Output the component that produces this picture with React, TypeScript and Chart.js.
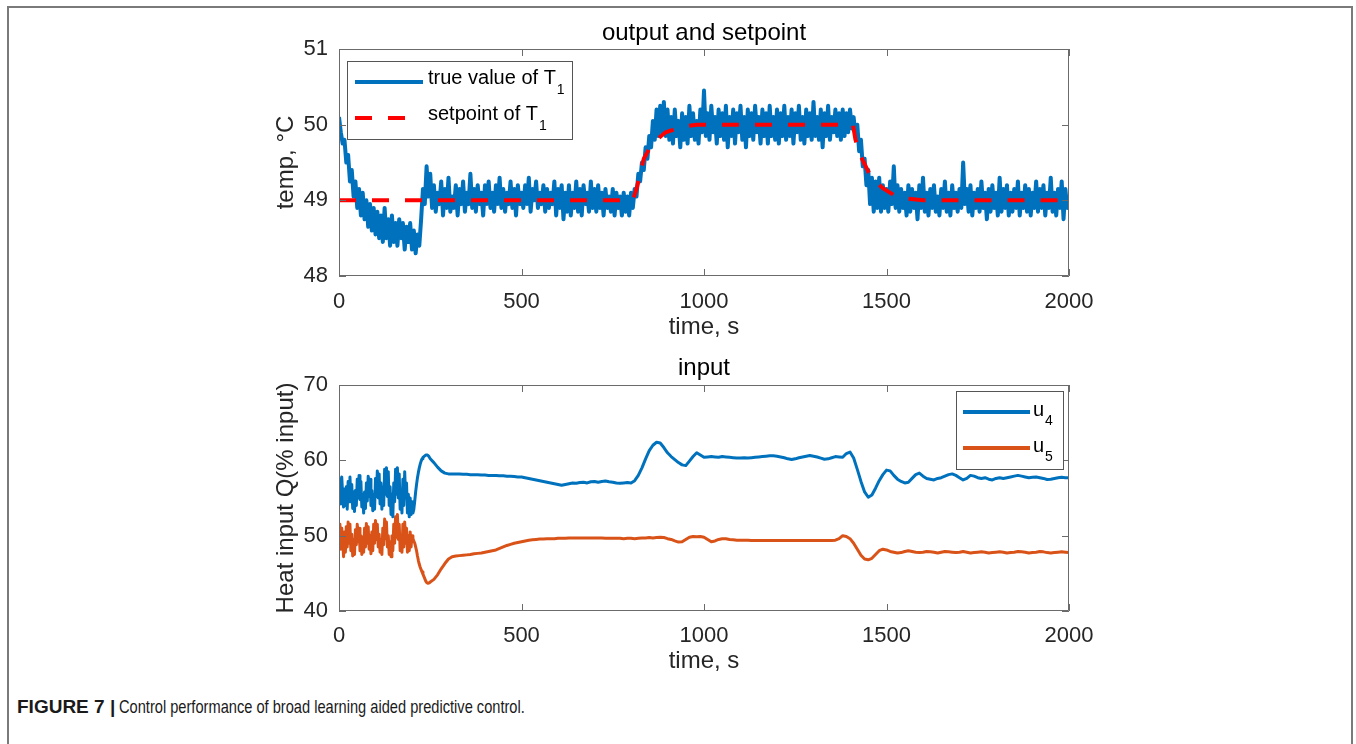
import React, { useEffect, useRef } from 'react';
import { Chart, registerables } from 'chart.js';

Chart.register(...registerables);

const FONT = '"Liberation Sans", Arial, Helvetica, sans-serif';
const TEXT_COLOR = '#262626';
const AXIS_COLOR = '#6b6b6b';

// ---------- shared axis data ----------
const TIME_TICKS = [0, 500, 1000, 1500, 2000];
const TIME_MIN = 0;
const TIME_MAX = 2000;
const TOP_Y_TICKS = [48, 49, 50, 51];
const BOTTOM_Y_TICKS = [40, 50, 60, 70];

// ---------- top plot: output and setpoint ----------
const TOP_TITLE = 'output and setpoint';
const TOP_Y_LABEL = 'temp, °C';
const X_LABEL = 'time, s';
const TRUE_NAME = ['true value of T', '1'];
const SETPOINT_NAME = ['setpoint of T', '1'];

// true value of T1, sampled every 5 s from 0 to 2000 s (one row = 100 s)
const TRUE_T1_STEP = 5;
const trueT1 = [
  50.10, 49.90, 49.75, 49.80, 49.50, 49.60, 49.25, 49.40, 49.05, 49.25, 48.90, 49.15, 48.80, 49.10, 48.75, 49.00, 48.65, 48.95, 48.60, 48.90,
  48.55, 48.85, 48.50, 48.80, 48.45, 48.90, 48.50, 48.75, 48.40, 48.80, 48.45, 48.70, 48.40, 48.75, 48.50, 48.70, 48.35, 48.65, 48.45, 48.70,
  48.35, 48.60, 48.30, 48.55, 48.40, 48.75, 49.15, 48.95, 49.45, 49.05, 49.35, 48.90, 49.20, 48.85, 49.10, 48.95, 49.25, 48.80, 49.15, 48.90,
  49.30, 48.85, 49.05, 48.90, 49.20, 48.80, 49.15, 48.95, 49.25, 48.85, 49.10, 48.95, 49.35, 48.90, 49.15, 48.85, 49.20, 48.95, 49.10, 48.80,
  49.20, 48.95, 49.25, 48.90, 49.10, 48.85, 49.20, 48.95, 49.30, 48.90, 49.15, 48.85, 49.10, 48.95, 49.25, 48.90, 49.15, 48.80, 49.20, 48.95,
  49.10, 48.90, 49.20, 48.95, 49.30, 48.85, 49.15, 49.00, 49.25, 48.90, 49.10, 48.95, 49.20, 48.85, 49.15, 48.90, 49.10, 48.95, 49.25, 48.80,
  49.15, 48.90, 49.20, 48.75, 49.10, 48.85, 49.20, 48.80, 49.10, 48.90, 49.25, 48.85, 49.15, 48.80, 49.20, 48.95, 49.10, 48.85, 49.25, 48.90,
  49.15, 48.85, 49.20, 48.90, 49.10, 48.80, 49.15, 48.90, 49.05, 48.85, 49.15, 48.80, 49.10, 48.90, 49.05, 48.80, 49.10, 48.85, 49.05, 48.80,
  49.10, 48.90, 49.15, 49.05, 49.35, 49.25, 49.50, 49.40, 49.70, 49.55, 49.85, 49.70, 50.05, 49.80, 50.20, 49.85, 50.25, 49.90, 50.30, 49.85,
  50.20, 49.80, 50.10, 49.75, 50.20, 49.85, 50.05, 49.70, 50.15, 49.80, 50.10, 49.75, 50.25, 49.85, 50.15, 49.80, 50.05, 49.75, 50.20, 49.90,
  50.45, 49.85, 50.15, 49.80, 50.25, 49.90, 50.10, 49.75, 50.20, 49.85, 50.15, 49.80, 50.25, 49.70, 50.10, 49.85, 50.20, 49.75, 50.15, 49.90,
  50.25, 49.80, 50.10, 49.70, 50.20, 49.85, 50.15, 49.80, 50.25, 49.90, 50.10, 49.75, 50.20, 49.85, 50.15, 49.75, 50.25, 49.85, 50.10, 49.80,
  50.20, 49.75, 50.15, 49.85, 50.25, 49.80, 50.10, 49.85, 50.20, 49.75, 50.15, 49.90, 50.25, 49.80, 50.10, 49.75, 50.20, 49.85, 50.15, 49.80,
  50.30, 49.85, 50.10, 49.80, 50.20, 49.70, 50.15, 49.85, 50.25, 49.80, 50.10, 49.90, 50.20, 49.85, 50.15, 49.80, 50.20, 49.85, 50.15, 49.90,
  50.20, 49.95, 50.10, 49.85, 50.00, 49.65, 49.80, 49.45, 49.55, 49.20, 49.40, 48.95, 49.30, 48.85, 49.25, 48.90, 49.30, 48.85, 49.20, 48.90,
  49.15, 48.85, 49.25, 48.95, 49.45, 48.90, 49.20, 48.85, 49.15, 48.90, 49.10, 48.80, 49.20, 48.85, 49.15, 48.90, 49.10, 48.75, 49.20, 48.90,
  49.30, 48.85, 49.10, 48.80, 49.15, 48.90, 49.20, 48.85, 49.05, 48.80, 49.15, 48.90, 49.25, 48.85, 49.10, 48.80, 49.20, 48.90, 49.10, 48.85,
  49.15, 48.90, 49.50, 48.95, 49.15, 48.85, 49.20, 48.80, 49.10, 48.90, 49.15, 48.85, 49.25, 48.90, 49.10, 48.75, 49.15, 48.85, 49.20, 48.90,
  49.10, 48.80, 49.30, 48.85, 49.15, 48.90, 49.20, 48.80, 49.10, 48.85, 49.15, 48.90, 49.25, 48.80, 49.10, 48.90, 49.20, 48.85, 49.15, 48.80,
  49.10, 48.90, 49.25, 48.85, 49.15, 48.90, 49.20, 48.80, 49.10, 48.90, 49.30, 48.85, 49.10, 48.80, 49.15, 48.90, 49.25, 48.75, 49.15, 48.90,
  49.05,
];

// setpoint of T1 (reference trajectory)
const setpointTime = [0, 805, 815, 825, 835, 850, 870, 895, 940, 980, 1408, 1415, 1430, 1450, 1470, 1490, 1520, 1560, 1600, 2000];
const setpointValue = [49, 49, 49.15, 49.35, 49.55, 49.68, 49.8, 49.9, 49.97, 50, 50, 49.8, 49.58, 49.38, 49.25, 49.16, 49.07, 49.02, 49, 49];

// ---------- bottom plot: input ----------
const BOTTOM_TITLE = 'input';
const BOTTOM_Y_LABEL = 'Heat input Q(% input)';
const U4_NAME = ['u', '4'];
const U5_NAME = ['u', '5'];

// 0 .. 250 s every 2.5 s
const U_EARLY_STEP = 2.5;
const u4Early = [
  55.0, 57.5, 54.2, 57.8, 55.5, 53.8, 56.2, 54.0, 56.5, 53.5,
  57.2, 54.5, 57.8, 55.0, 56.8, 53.6, 55.8, 53.2, 56.0, 54.0,
  57.5, 55.0, 58.0, 54.8, 57.2, 53.8, 55.5, 53.0, 55.8, 53.6,
  57.0, 54.6, 57.9, 55.2, 57.5, 54.0, 56.0, 53.3, 55.5, 53.5,
  57.6, 55.2, 58.6, 55.0, 58.2, 54.2, 57.0, 53.5, 56.5, 54.0,
  58.8, 55.5, 59.0, 55.2, 58.5, 54.0, 56.5, 52.8, 55.5, 52.5,
  57.0, 54.5, 58.8, 55.5, 59.0, 55.0, 58.2, 53.5, 56.0, 53.0,
  57.5, 54.0, 58.5, 55.0, 57.0, 53.0, 55.5, 52.5, 55.0, 52.8,
  54.5, 53.0, 53.5, 54.6, 55.8, 56.8, 57.7, 58.4, 59.0, 59.5,
  59.9, 60.2, 60.4, 60.5, 60.6, 60.7, 60.7, 60.7, 60.6, 60.4,
  60.2,
];
const u5Early = [
  49.0, 51.5, 48.2, 51.0, 49.5, 47.2, 50.5, 47.8, 51.2, 48.5,
  51.8, 49.0, 51.5, 48.0, 50.2, 47.3, 49.5, 47.5, 50.8, 48.8,
  51.5, 49.2, 51.0, 48.0, 50.0, 47.5, 49.8, 47.8, 51.0, 48.5,
  51.6, 49.0, 51.2, 48.2, 50.0, 47.6, 50.5, 48.0, 51.5, 49.0,
  52.0, 49.5, 51.5, 48.5, 50.2, 47.8, 49.5, 47.5, 51.0, 48.8,
  52.2, 49.6, 51.8, 48.5, 50.0, 47.5, 49.2, 47.2, 50.0, 48.0,
  51.5, 49.0, 52.5, 49.8, 52.8, 49.5, 51.5, 48.0, 50.0, 47.8,
  51.5, 48.5, 51.8, 49.0, 51.0, 47.8, 50.0, 48.0, 50.5, 48.5,
  50.0, 49.6, 49.3, 49.0, 48.5, 48.0, 47.3, 46.7, 46.2, 45.8,
  45.5, 45.2, 44.9, 44.6, 44.3, 44.0, 43.8, 43.7, 43.7, 43.75,
  43.85,
];

// 260 .. 2000 s every 10 s
const U_LATE_START = 260;
const U_LATE_STEP = 10;
const u4Late = [
  59.7, 59.1, 58.6, 58.3, 58.2, 58.2, 58.2, 58.2, 58.15, 58.15,
  58.1, 58.1, 58.1, 58.05, 58.05, 58.0, 58.0, 58.0, 57.95, 57.95,
  57.9, 57.9, 57.85, 57.8, 57.8, 57.7, 57.6, 57.5, 57.4, 57.3,
  57.2, 57.1, 57.0, 56.9, 56.8, 56.7, 56.8, 56.9, 57.0, 56.95,
  57.05, 57.1, 57.0, 57.15, 57.2, 57.1, 57.2, 57.25, 57.15, 57.1,
  57.0, 56.95, 57.0, 57.05, 57.0, 57.3, 58.0, 59.0, 60.2, 61.3,
  62.0, 62.4, 62.3, 61.7, 61.0, 60.5, 60.1, 59.7, 59.4, 59.3,
  59.9, 60.5, 61.0, 60.7, 60.4, 60.45, 60.5, 60.45, 60.4, 60.5,
  60.45, 60.4, 60.35, 60.3, 60.3, 60.35, 60.3, 60.35, 60.4, 60.45,
  60.5, 60.55, 60.6, 60.6, 60.55, 60.45, 60.35, 60.2, 60.1, 60.2,
  60.35, 60.45, 60.55, 60.65, 60.55, 60.45, 60.3, 60.15, 60.2, 60.35,
  60.5, 60.45, 60.4, 60.9, 61.1, 60.3, 58.8, 57.2, 55.8, 55.1,
  55.4, 56.3, 57.3, 58.1, 58.7, 58.6, 58.0, 57.5, 57.2, 57.0,
  57.1, 57.6, 58.1, 58.3, 57.9, 57.6, 57.5, 57.4, 57.6, 57.7,
  57.9, 58.1, 58.2, 58.0, 57.7, 57.4, 57.6, 58.0, 57.9, 57.7,
  57.6, 57.7, 57.5, 57.4, 57.6, 57.7, 57.6, 57.7, 57.8, 57.9,
  58.0, 57.9, 57.8, 57.7, 57.75, 57.8, 57.7, 57.6, 57.45, 57.5,
  57.6, 57.7, 57.75, 57.7, 57.7,
];
const u5Late = [
  44.2, 44.8, 45.6, 46.3, 46.9, 47.2, 47.3, 47.35, 47.4, 47.45,
  47.5, 47.6, 47.65, 47.7, 47.8, 47.9, 48.0, 48.1, 48.3, 48.5,
  48.7, 48.85, 49.0, 49.1, 49.2, 49.3, 49.4, 49.45, 49.5, 49.55,
  49.55, 49.6, 49.6, 49.6, 49.65, 49.65, 49.65, 49.7, 49.7, 49.7,
  49.7, 49.7, 49.7, 49.7, 49.7, 49.7, 49.7, 49.65, 49.65, 49.65,
  49.65, 49.65, 49.6, 49.65, 49.65, 49.6, 49.65, 49.7, 49.7, 49.75,
  49.7, 49.75, 49.8, 49.75, 49.6, 49.5, 49.3, 49.15, 49.2, 49.5,
  49.8, 49.9, 49.85, 49.9, 49.8, 49.5, 49.2, 49.3, 49.5, 49.6,
  49.6, 49.5, 49.45, 49.4, 49.4, 49.4, 49.4, 49.35, 49.35, 49.35,
  49.35, 49.35, 49.35, 49.35, 49.35, 49.35, 49.35, 49.35, 49.35, 49.35,
  49.35, 49.35, 49.35, 49.35, 49.35, 49.35, 49.35, 49.35, 49.35, 49.35,
  49.4, 49.6, 50.0, 49.9, 49.6, 49.0, 48.2, 47.4, 46.9, 46.8,
  47.0, 47.5, 48.0, 48.2, 48.1, 47.9, 47.8, 47.7, 47.75, 47.9,
  48.0, 47.9, 47.8, 47.75, 47.8, 47.9, 47.85, 47.8, 47.7, 47.8,
  47.9, 47.85, 47.8, 47.75, 47.8, 47.9, 47.8, 47.7, 47.75, 47.8,
  47.85, 47.8, 47.7, 47.75, 47.8, 47.85, 47.8, 47.7, 47.75, 47.8,
  47.9, 47.85, 47.8, 47.7, 47.75, 47.8, 47.9, 47.85, 47.75, 47.7,
  47.75, 47.8, 47.85, 47.8, 47.75,
];

const CAPTION_BOLD = 'FIGURE 7 |';
const CAPTION_TEXT = 'Control performance of broad learning aided predictive control.';

// ---------- helpers ----------
const sampled = (start: number, step: number, values: number[]) =>
  values.map((v, i) => ({ x: start + i * step, y: v }));
const paired = (times: number[], values: number[]) => values.map((v, i) => ({ x: times[i], y: v }));

const framePlugin = {
  id: 'matlabFrame',
  afterDatasetsDraw(chart: any, _args: any, opts: any) {
    const { ctx, chartArea, scales } = chart;
    const { left, right, top, bottom } = chartArea;
    const tl = opts.tickLength ?? 7;
    ctx.save();
    ctx.strokeStyle = opts.color || AXIS_COLOR;
    ctx.lineWidth = 1;
    ctx.setLineDash([]);
    ctx.beginPath();
    ctx.rect(left + 0.5, top + 0.5, right - left - 1, bottom - top - 1);
    scales.x.ticks.forEach((t: any) => {
      const px = Math.round(scales.x.getPixelForValue(t.value)) + 0.5;
      ctx.moveTo(px, bottom);
      ctx.lineTo(px, bottom - tl);
      ctx.moveTo(px, top);
      ctx.lineTo(px, top + tl);
    });
    scales.y.ticks.forEach((t: any) => {
      const py = Math.round(scales.y.getPixelForValue(t.value)) + 0.5;
      ctx.moveTo(left, py);
      ctx.lineTo(left + tl, py);
      ctx.moveTo(right, py);
      ctx.lineTo(right - tl, py);
    });
    ctx.stroke();
    ctx.restore();
  },
};

const legendPlugin = {
  id: 'matlabLegend',
  afterDraw(chart: any, _args: any, opts: any) {
    if (!opts || !opts.items) return;
    const { ctx, chartArea } = chart;
    const boxLeft = opts.anchor === 'left'
      ? chartArea.left + opts.offsetX
      : chartArea.right - opts.offsetX - opts.width;
    const boxTop = chartArea.top + opts.offsetY;
    ctx.save();
    ctx.fillStyle = '#ffffff';
    ctx.fillRect(boxLeft, boxTop, opts.width, opts.height);
    ctx.strokeStyle = '#555555';
    ctx.lineWidth = 1;
    ctx.strokeRect(Math.round(boxLeft) + 0.5, Math.round(boxTop) + 0.5, opts.width, opts.height);
    opts.items.forEach((it: any, i: number) => {
      const ds = chart.data.datasets[it.dataset];
      const y = boxTop + opts.firstRow + i * opts.rowGap;
      ctx.setLineDash(ds.borderDash || []);
      ctx.lineDashOffset = 0;
      ctx.lineWidth = it.lineWidth;
      ctx.strokeStyle = ds.borderColor;
      ctx.lineCap = 'butt';
      ctx.beginPath();
      ctx.moveTo(boxLeft + opts.lineStart, y);
      ctx.lineTo(boxLeft + (it.lineEnd ?? opts.lineEnd), y);
      ctx.stroke();
      ctx.setLineDash([]);
      ctx.fillStyle = '#000000';
      ctx.textAlign = 'left';
      ctx.textBaseline = 'middle';
      ctx.font = `20px ${FONT}`;
      const tx = boxLeft + opts.textStart;
      const ty = y + opts.textDy;
      ctx.fillText(it.name[0], tx, ty);
      const w = ctx.measureText(it.name[0]).width;
      ctx.font = `14px ${FONT}`;
      ctx.fillText(it.name[1], tx + w + 1, ty + opts.subDy);
    });
    ctx.restore();
  },
};

const tickFont = { family: FONT, size: 22 };
const labelFont = { family: FONT, size: 24 };

function xScale(tickPad: number, scaleHeight: number, titleBottomPad: number) {
  return {
    type: 'linear' as const,
    min: TIME_MIN,
    max: TIME_MAX,
    afterBuildTicks: (s: any) => { s.ticks = TIME_TICKS.map((v) => ({ value: v })); },
    afterFit: (s: any) => { s.height = scaleHeight; },
    grid: { display: false, drawTicks: false },
    border: { display: false },
    ticks: {
      padding: tickPad, font: tickFont, color: TEXT_COLOR, maxRotation: 0, minRotation: 0, autoSkip: false,
      callback: (v: any) => String(v),
    },
    title: { display: true, text: X_LABEL, font: labelFont, color: TEXT_COLOR, padding: { top: 0, bottom: titleBottomPad } },
  };
}

function yScale(min: number, max: number, ticks: number[], label: string) {
  return {
    type: 'linear' as const,
    min,
    max,
    afterBuildTicks: (s: any) => { s.ticks = ticks.map((v) => ({ value: v })); },
    afterFit: (s: any) => { s.width = 99; },
    grid: { display: false, drawTicks: false },
    border: { display: false },
    ticks: { padding: 11, font: tickFont, color: TEXT_COLOR, autoSkip: false, callback: (v: any) => String(v) },
    title: { display: true, text: label, font: labelFont, color: TEXT_COLOR, padding: { top: 32, bottom: 0 } },
  };
}

export default function App() {
  const topRef = useRef<HTMLCanvasElement | null>(null);
  const bottomRef = useRef<HTMLCanvasElement | null>(null);

  useEffect(() => {
    if (!topRef.current || !bottomRef.current) return;

    const top = new Chart(topRef.current, {
      type: 'line',
      data: {
        datasets: [
          {
            label: SETPOINT_NAME.join(''),
            data: paired(setpointTime, setpointValue),
            borderColor: '#FF0000',
            borderWidth: 4,
            borderDash: [17, 16],
            borderCapStyle: 'butt',
            pointRadius: 0,
            tension: 0,
            order: 0,
          },
          {
            label: TRUE_NAME.join(''),
            data: sampled(0, TRUE_T1_STEP, trueT1),
            borderColor: '#0072BD',
            borderWidth: 4,
            borderJoinStyle: 'round',
            pointRadius: 0,
            tension: 0,
            order: 1,
          },
        ],
      },
      options: {
        responsive: false,
        animation: false,
        events: [],
        layout: { padding: { left: 0, right: 99, top: 0, bottom: 0 } },
        plugins: {
          legend: { display: false },
          tooltip: { enabled: false },
          title: {
            display: true,
            fullSize: false,
            text: TOP_TITLE,
            color: '#000000',
            font: { family: FONT, size: 24, weight: 'normal' },
            padding: { top: 18.6, bottom: 1.6 },
          },
          matlabFrame: { tickLength: 7 },
          matlabLegend: {
            anchor: 'left', offsetX: 8, offsetY: 12, width: 225, height: 78,
            firstRow: 21, rowGap: 36, lineStart: 8, lineEnd: 76, textStart: 81, textDy: -4, subDy: 12,
            items: [
              { dataset: 1, name: TRUE_NAME, lineWidth: 4 },
              { dataset: 0, name: SETPOINT_NAME, lineWidth: 4, lineEnd: 72 },
            ],
          },
        } as any,
        scales: {
          x: xScale(12.8, 74, 8.6),
          y: yScale(48, 51, TOP_Y_TICKS, TOP_Y_LABEL),
        } as any,
      },
      plugins: [framePlugin, legendPlugin],
    });

    const bottom = new Chart(bottomRef.current, {
      type: 'line',
      data: {
        datasets: [
          {
            label: U4_NAME.join(''),
            data: [...sampled(0, U_EARLY_STEP, u4Early), ...sampled(U_LATE_START, U_LATE_STEP, u4Late)],
            borderColor: '#0072BD',
            borderWidth: 3,
            borderJoinStyle: 'round',
            pointRadius: 0,
            tension: 0,
          },
          {
            label: U5_NAME.join(''),
            data: [...sampled(0, U_EARLY_STEP, u5Early), ...sampled(U_LATE_START, U_LATE_STEP, u5Late)],
            borderColor: '#D95319',
            borderWidth: 3,
            borderJoinStyle: 'round',
            pointRadius: 0,
            tension: 0,
          },
        ],
      },
      options: {
        responsive: false,
        animation: false,
        events: [],
        layout: { padding: { left: 0, right: 99, top: 0, bottom: 0 } },
        plugins: {
          legend: { display: false },
          tooltip: { enabled: false },
          title: {
            display: true,
            fullSize: false,
            text: BOTTOM_TITLE,
            color: '#000000',
            font: { family: FONT, size: 24, weight: 'normal' },
            padding: { top: 3.6, bottom: 2.6 },
          },
          matlabFrame: { tickLength: 7 },
          matlabLegend: {
            anchor: 'right', offsetX: 6, offsetY: 6, width: 107, height: 78,
            firstRow: 21, rowGap: 36, lineStart: 7, lineEnd: 74, textStart: 77, textDy: -2, subDy: 11,
            items: [
              { dataset: 0, name: U4_NAME, lineWidth: 4 },
              { dataset: 1, name: U5_NAME, lineWidth: 4 },
            ],
          },
        } as any,
        scales: {
          x: xScale(11.3, 83, 18.6),
          y: yScale(40, 70, BOTTOM_Y_TICKS, BOTTOM_Y_LABEL),
        } as any,
      },
      plugins: [framePlugin, legendPlugin],
    });

    return () => {
      top.destroy();
      bottom.destroy();
    };
  }, []);

  return (
    <div style={{ position: 'absolute', left: 0, top: 0, width: 1356, height: 744, overflow: 'hidden', background: '#fff' }}>
      <div
        style={{
          position: 'absolute', left: 7, top: 6, width: 1346, height: 738, boxSizing: 'border-box',
          borderLeft: '2px solid #7a7a7a', borderRight: '2px solid #7a7a7a', borderTop: '2px solid #7a7a7a',
        }}
      />
      <canvas ref={topRef} width={928} height={350} style={{ position: 'absolute', left: 240, top: 0, width: 928, height: 350 }} />
      <canvas ref={bottomRef} width={928} height={344} style={{ position: 'absolute', left: 240, top: 350, width: 928, height: 344 }} />
      <div
        style={{
          position: 'absolute', left: 17, top: 697, whiteSpace: 'nowrap', fontFamily: '"Liberation Sans", Arial, sans-serif',
          fontSize: 19, lineHeight: '20px', color: '#1a1a1a',
        }}
      >
        <span style={{ fontWeight: 'bold' }}>{CAPTION_BOLD}</span>
        <span style={{ display: 'inline-block', marginLeft: 4, transform: 'scaleX(0.77)', transformOrigin: 'left center' }}>{CAPTION_TEXT}</span>
      </div>
    </div>
  );
}
